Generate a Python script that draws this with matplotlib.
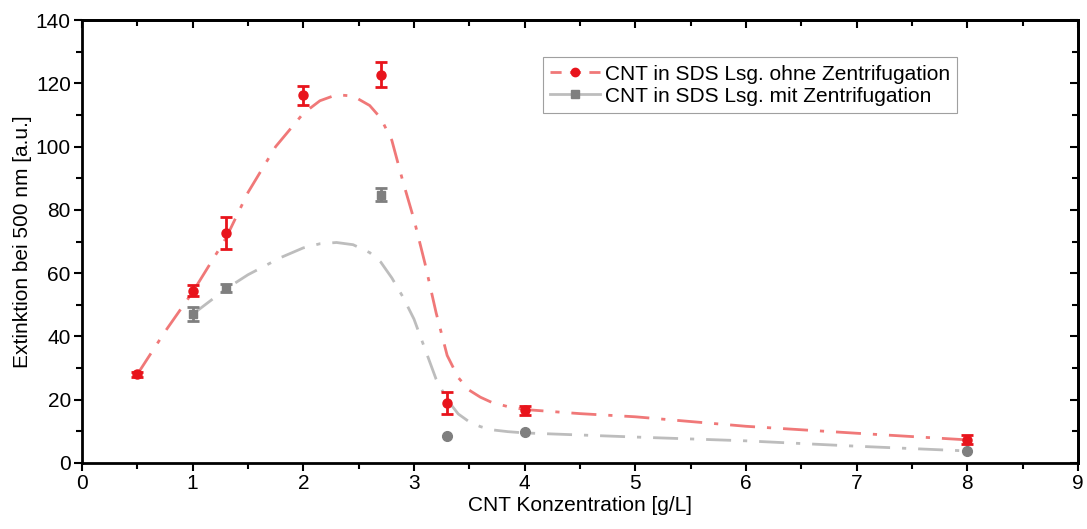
import matplotlib
matplotlib.use("Agg")
import matplotlib.pyplot as plt
from matplotlib.ticker import MultipleLocator

plt.rcParams["font.family"] = ["Liberation Sans", "DejaVu Sans"]

# measured points
red_x = [0.5, 1.0, 1.3, 2.0, 2.7, 3.3, 4.0, 8.0]
red_y = [28.0, 54.5, 72.8, 116.3, 122.8, 19.0, 16.6, 7.4]
red_err = [0.8, 1.8, 5.0, 3.0, 3.8, 3.4, 1.4, 1.5]

grey_sq_x = [1.0, 1.3, 2.7]
grey_sq_y = [47.0, 55.3, 84.8]
grey_sq_err = [2.2, 1.4, 2.0]

grey_ci_x = [3.3, 4.0, 8.0]
grey_ci_y = [8.4, 9.7, 3.9]

# fitted curves
red_fit_x = [0.5, 0.75, 1.0, 1.3, 1.5, 1.75, 2.0, 2.15, 2.3, 2.45, 2.6, 2.7, 2.8, 2.9, 3.0,
             3.1, 3.2, 3.3, 3.4, 3.5, 3.6, 3.7, 3.85, 4.0, 4.5, 5.0, 6.0, 7.0, 8.0]
red_fit_y = [28.0, 41.5, 54.0, 71.0, 85.5, 100.0, 110.5, 114.5, 116.4, 116.0, 113.0, 109.0,
             102.0, 89.0, 77.0, 63.0, 47.5, 34.0, 27.0, 23.0, 20.8, 19.2, 17.8, 16.9, 15.6,
             14.6, 11.6, 9.4, 7.3]

grey_fit_x = [1.0, 1.3, 1.5, 1.8, 2.0, 2.15, 2.3, 2.45, 2.6, 2.7, 2.8, 2.9, 3.0, 3.1, 3.2,
              3.3, 3.4, 3.5, 3.6, 3.7, 3.85, 4.0, 5.0, 6.0, 7.0, 8.0]
grey_fit_y = [47.0, 55.0, 59.5, 65.0, 68.0, 69.3, 69.7, 69.0, 66.5, 63.5, 58.5, 52.5, 45.5,
              36.0, 26.5, 20.0, 15.5, 13.0, 11.5, 10.5, 9.9, 9.5, 8.2, 7.0, 5.3, 3.8]

x_ticks = list(range(0, 10))
y_ticks = list(range(0, 141, 20))

red = "#e8141c"
red_line = "#f07878"
grey = "#7f7f7f"
grey_line = "#bdbdbd"
dashdot = (0, (9, 4.3, 1.5, 4.3))
fs = 15

fig = plt.figure(figsize=(10.87, 5.29), dpi=100)
ax = fig.add_axes([0.0754, 0.1248, 0.9163, 0.8372])

ax.plot(red_fit_x, red_fit_y, color=red_line, lw=2, linestyle=dashdot, zorder=2)
ax.plot(grey_fit_x, grey_fit_y, color=grey_line, lw=2, linestyle=dashdot, zorder=2)

ax.errorbar(grey_sq_x, grey_sq_y, yerr=grey_sq_err, fmt="s", color=grey, ms=6,
            elinewidth=2, capsize=4, capthick=2, zorder=3)
ax.plot(grey_ci_x, grey_ci_y, "o", color=grey, ms=7, zorder=3)
ax.errorbar(red_x, red_y, yerr=red_err, fmt="o", color=red, ms=6.5,
            elinewidth=2, capsize=4, capthick=2, zorder=4)

# legend handles
h1, = ax.plot([], [], color=red_line, lw=2, linestyle=(0, (4, 3)), marker="o",
              mfc=red, mec=red, ms=6)
h2, = ax.plot([], [], color=grey_line, lw=2, marker="s", mfc=grey, mec=grey, ms=6)
leg = ax.legend([h1, h2], ["CNT in SDS Lsg. ohne Zentrifugation",
                           "CNT in SDS Lsg. mit Zentrifugation"],
                loc="upper left", bbox_to_anchor=(0.463, 0.916), fontsize=fs,
                frameon=True, fancybox=False, edgecolor="#888888",
                handlelength=2.4, handletextpad=0.2, borderpad=0.35,
                labelspacing=0.15, borderaxespad=0)
leg.get_frame().set_linewidth(0.8)

ax.set_xlim(0, 9)
ax.set_ylim(0, 140)
ax.set_xticks(x_ticks)
ax.set_yticks(y_ticks)
ax.xaxis.set_minor_locator(MultipleLocator(0.5))
ax.yaxis.set_minor_locator(MultipleLocator(10))
ax.tick_params(which="both", direction="out", width=1.5, labelsize=fs,
               top=False, right=False)
ax.tick_params(which="major", length=6, pad=2)
ax.tick_params(which="minor", length=4)

# inward ticks on top and right
secx = ax.secondary_xaxis("top")
secx.set_xticks(x_ticks)
secx.xaxis.set_minor_locator(MultipleLocator(0.5))
secx.tick_params(which="both", direction="in", width=1.5, labeltop=False)
secx.tick_params(which="major", length=6)
secx.tick_params(which="minor", length=4)
secy = ax.secondary_yaxis("right")
secy.set_yticks(y_ticks)
secy.yaxis.set_minor_locator(MultipleLocator(10))
secy.tick_params(which="both", direction="in", width=1.5, labelright=False)
secy.tick_params(which="major", length=6)
secy.tick_params(which="minor", length=4)

for s in ax.spines.values():
    s.set_linewidth(2)
secx.spines["top"].set_linewidth(2)
secy.spines["right"].set_linewidth(2)

ax.set_xlabel("CNT Konzentration [g/L]", fontsize=fs, labelpad=2)
ax.set_ylabel("Extinktion bei 500 nm [a.u.]", fontsize=fs, labelpad=3)

fig.savefig("out.png", dpi=100)
